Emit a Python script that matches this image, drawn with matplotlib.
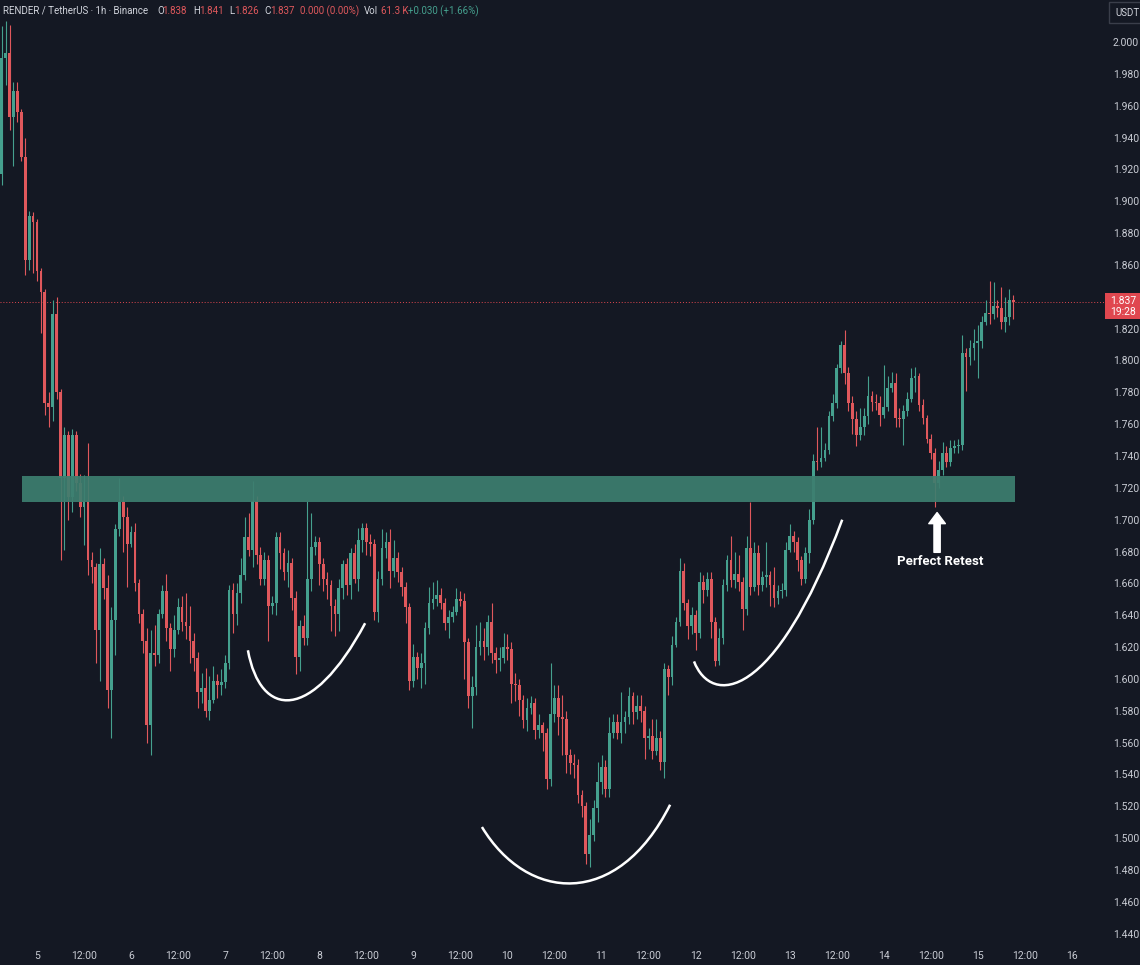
import numpy as np
import matplotlib
matplotlib.use("Agg")
import matplotlib.pyplot as plt
from matplotlib.patches import Rectangle, PathPatch
from matplotlib.path import Path

# RENDER/USDT 1h candles, hour 0 = day 5 00:00, first candle = day 4 15:00
first_hour = -9
first_open = 1.917
closes = [
    1.990, 1.993, 1.953, 1.969, 1.956, 1.928, 1.863, 1.891, 1.887, 1.856, 1.843, 1.773, 1.771, 1.829, 1.780, 1.726,
    1.753, 1.714, 1.753, 1.723, 1.708, 1.712,
    1.675, 1.670, 1.631, 1.672, 1.657, 1.593, 1.637, 1.694, 1.711, 1.702, 1.685, 1.692, 1.660, 1.641, 1.624, 1.571,
    1.616, 1.615, 1.641, 1.655, 1.632, 1.619, 1.631, 1.645, 1.636, 1.633, 1.624, 1.613, 1.592, 1.594, 1.580, 1.587,
    1.599, 1.596, 1.598, 1.610, 1.656, 1.641, 1.654,
    1.665, 1.689, 1.681, 1.712, 1.678, 1.663, 1.675, 1.646, 1.648, 1.689, 1.679, 1.667, 1.673, 1.651, 1.614, 1.633,
    1.626, 1.663, 1.683, 1.686, 1.672, 1.663, 1.659, 1.646, 1.641, 1.657, 1.672, 1.659, 1.679, 1.663, 1.687, 1.695,
    1.686, 1.685, 1.642, 1.663, 1.682, 1.686, 1.668, 1.676, 1.667, 1.658, 1.645, 1.599, 1.614, 1.607, 1.610, 1.632,
    1.648, 1.650, 1.653, 1.648, 1.635, 1.639, 1.642, 1.650, 1.649, 1.623, 1.589, 1.595, 1.620, 1.624, 1.620, 1.636,
    1.616, 1.612, 1.613, 1.620, 1.619, 1.597, 1.596, 1.587, 1.574, 1.582, 1.585, 1.568, 1.571, 1.566, 1.537, 1.578,
    1.588, 1.576, 1.575, 1.552, 1.547, 1.546, 1.527, 1.520, 1.490, 1.502, 1.519,
    1.535, 1.545, 1.531, 1.566, 1.573, 1.566, 1.573, 1.576, 1.589, 1.579, 1.583, 1.580, 1.563, 1.564, 1.555, 1.563,
    1.548, 1.606, 1.601, 1.621, 1.636, 1.668, 1.648, 1.633, 1.640, 1.629, 1.661, 1.656, 1.663, 1.636, 1.611, 1.626,
    1.659, 1.675, 1.662, 1.666, 1.661, 1.644, 1.682, 1.658, 1.679, 1.659, 1.664, 1.665, 1.659, 1.651, 1.655, 1.656,
    1.681, 1.690, 1.686, 1.675, 1.663, 1.679, 1.700,
    1.737, 1.736, 1.739, 1.744, 1.765, 1.773, 1.795, 1.810, 1.792, 1.773, 1.763, 1.753, 1.758, 1.765, 1.778, 1.774,
    1.773, 1.766, 1.771, 1.783, 1.786, 1.764, 1.763, 1.768, 1.776, 1.789, 1.790, 1.772, 1.764, 1.751, 1.742, 1.723,
    1.731, 1.742, 1.736, 1.745, 1.746, 1.747, 1.805, 1.802, 1.808, 1.811, 1.812, 1.824, 1.830, 1.829, 1.834, 1.833,
    1.824, 1.827, 1.838, 1.837,
]
highs = [
    2.010, 2.013, 2.011, 1.975, 1.975, 1.958, 1.940, 1.894, 1.893, 1.889, 1.858, 1.845, 1.780, 1.838, 1.840, 1.782,
    1.758, 1.756, 1.757, 1.756, 1.729, 1.728,
    1.748, 1.680, 1.673, 1.682, 1.676, 1.665, 1.645, 1.697, 1.726, 1.715, 1.708, 1.696, 1.698, 1.663, 1.644, 1.632,
    1.631, 1.634, 1.644, 1.659, 1.666, 1.635, 1.640, 1.651, 1.652, 1.654, 1.646, 1.629, 1.617, 1.604, 1.607, 1.602,
    1.608, 1.603, 1.606, 1.615, 1.659, 1.660, 1.660,
    1.676, 1.702, 1.704, 1.724, 1.715, 1.683, 1.680, 1.678, 1.652, 1.692, 1.692, 1.682, 1.681, 1.676, 1.655, 1.637,
    1.640, 1.712, 1.704, 1.690, 1.689, 1.676, 1.667, 1.662, 1.650, 1.663, 1.675, 1.676, 1.682, 1.685, 1.695, 1.698,
    1.698, 1.691, 1.688, 1.668, 1.694, 1.692, 1.694, 1.687, 1.680, 1.670, 1.661, 1.648, 1.622, 1.617, 1.616, 1.636,
    1.658, 1.661, 1.662, 1.657, 1.651, 1.643, 1.646, 1.657, 1.655, 1.654, 1.626, 1.602, 1.634, 1.636, 1.632, 1.640,
    1.648, 1.620, 1.620, 1.629, 1.628, 1.623, 1.604, 1.600, 1.590, 1.588, 1.589, 1.588, 1.578, 1.573, 1.569, 1.610,
    1.596, 1.596, 1.590, 1.580, 1.556, 1.553, 1.550, 1.530, 1.523, 1.512, 1.524,
    1.548, 1.552, 1.549, 1.576, 1.578, 1.578, 1.592, 1.580, 1.595, 1.592, 1.590, 1.590, 1.583, 1.569, 1.575, 1.575,
    1.567, 1.610, 1.609, 1.627, 1.639, 1.676, 1.673, 1.650, 1.645, 1.643, 1.667, 1.665, 1.667, 1.667, 1.639, 1.632,
    1.663, 1.678, 1.690, 1.680, 1.678, 1.664, 1.690, 1.711, 1.686, 1.684, 1.668, 1.686, 1.668, 1.670, 1.659, 1.660,
    1.686, 1.697, 1.693, 1.689, 1.677, 1.683, 1.707,
    1.741, 1.758, 1.758, 1.748, 1.768, 1.779, 1.798, 1.812, 1.819, 1.796, 1.778, 1.768, 1.770, 1.770, 1.790, 1.781,
    1.779, 1.778, 1.797, 1.790, 1.793, 1.792, 1.770, 1.772, 1.780, 1.795, 1.796, 1.792, 1.776, 1.766, 1.754, 1.745,
    1.737, 1.749, 1.746, 1.750, 1.750, 1.751, 1.816, 1.808, 1.813, 1.820, 1.822, 1.828, 1.838, 1.850, 1.849, 1.838,
    1.846, 1.840, 1.845, 1.841,
]
lows = [
    1.910, 1.973, 1.945, 1.922, 1.950, 1.925, 1.854, 1.857, 1.855, 1.850, 1.817, 1.766, 1.758, 1.762, 1.776, 1.675,
    1.681, 1.700, 1.705, 1.718, 1.702, 1.684,
    1.665, 1.660, 1.610, 1.599, 1.650, 1.582, 1.563, 1.615, 1.690, 1.680, 1.658, 1.683, 1.655, 1.635, 1.616, 1.560,
    1.552, 1.608, 1.610, 1.638, 1.624, 1.605, 1.614, 1.628, 1.630, 1.625, 1.610, 1.605, 1.582, 1.585, 1.576, 1.574,
    1.585, 1.588, 1.590, 1.594, 1.606, 1.629, 1.634,
    1.648, 1.662, 1.677, 1.670, 1.672, 1.659, 1.659, 1.624, 1.641, 1.640, 1.669, 1.662, 1.658, 1.643, 1.603, 1.605,
    1.621, 1.621, 1.655, 1.678, 1.659, 1.655, 1.650, 1.630, 1.627, 1.630, 1.650, 1.653, 1.650, 1.660, 1.655, 1.680,
    1.678, 1.677, 1.637, 1.636, 1.659, 1.676, 1.657, 1.664, 1.661, 1.652, 1.635, 1.593, 1.595, 1.600, 1.594, 1.597,
    1.628, 1.644, 1.646, 1.644, 1.631, 1.626, 1.636, 1.640, 1.646, 1.600, 1.582, 1.569, 1.590, 1.615, 1.612, 1.615,
    1.610, 1.604, 1.605, 1.610, 1.612, 1.585, 1.586, 1.577, 1.569, 1.567, 1.578, 1.562, 1.563, 1.555, 1.531, 1.533,
    1.573, 1.565, 1.552, 1.541, 1.540, 1.538, 1.522, 1.513, 1.484, 1.482, 1.498,
    1.510, 1.528, 1.526, 1.526, 1.563, 1.562, 1.560, 1.566, 1.572, 1.572, 1.575, 1.573, 1.550, 1.556, 1.550, 1.552,
    1.543, 1.538, 1.590, 1.596, 1.620, 1.633, 1.643, 1.625, 1.628, 1.618, 1.626, 1.648, 1.652, 1.626, 1.608, 1.609,
    1.622, 1.655, 1.658, 1.657, 1.655, 1.631, 1.640, 1.653, 1.655, 1.653, 1.655, 1.658, 1.646, 1.645, 1.647, 1.651,
    1.652, 1.680, 1.680, 1.668, 1.659, 1.660, 1.673,
    1.697, 1.731, 1.733, 1.737, 1.741, 1.762, 1.770, 1.792, 1.785, 1.768, 1.754, 1.746, 1.750, 1.753, 1.760, 1.768,
    1.769, 1.759, 1.764, 1.768, 1.780, 1.758, 1.758, 1.747, 1.765, 1.774, 1.780, 1.768, 1.760, 1.748, 1.738, 1.708,
    1.720, 1.728, 1.733, 1.734, 1.742, 1.742, 1.744, 1.781, 1.797, 1.800, 1.789, 1.808, 1.822, 1.823, 1.826, 1.827,
    1.820, 1.818, 1.822, 1.826,
]
last_price = 1.837

# support zone and annotations (hour, price)
zone_lo, zone_hi = 1.7111, 1.7272
zone_start, zone_end = -3.8, 249.5
curve_left = [(53.8, 1.618), (57.0, 1.575), (70.0, 1.572), (83.7, 1.635)]
curve_mid = [(113.5, 1.507), (125.0, 1.460), (148.0, 1.455), (161.5, 1.521)]
curve_right = [(167.6, 1.611), (172.0, 1.583), (188.0, 1.585), (205.4, 1.700)]

tick_hours = list(range(0, 265, 12))
tick_labels = ["5", "12:00", "6", "12:00", "7", "12:00", "8", "12:00", "9", "12:00", "10", "12:00",
               "11", "12:00", "12", "12:00", "13", "12:00", "14", "12:00", "15", "12:00", "16"]
price_ticks = np.round(np.arange(1.44, 2.0001, 0.02), 3)

BG = "#141823"
UP = "#45a08e"
DOWN = "#e0585c"
TXT = "#c9ccd4"
plt.rcParams["font.family"] = ["Roboto", "DejaVu Sans"]

opens = [first_open] + closes[:-1]
hours = np.arange(len(closes)) + first_hour

fig = plt.figure(figsize=(11.4, 9.65), dpi=100, facecolor=BG)
ax = fig.add_axes([0, 20 / 965, 1108 / 1140, 945 / 965])
ax.set_facecolor(BG)
ax.set_xlim(-9.44, 273.2)
ax.set_ylim(1.4329, 2.0264)
for s in ax.spines.values():
    s.set_visible(False)

for h, o, c, hi, lo in zip(hours, opens, closes, highs, lows):
    col = UP if c >= o else DOWN
    ax.vlines(h, lo, hi, color=col, lw=0.8, zorder=2)
    ax.bar(h, max(abs(c - o), 0.0008), bottom=min(o, c), width=0.7, color=col, zorder=2)

ax.add_patch(Rectangle((zone_start, zone_lo), zone_end - zone_start, zone_hi - zone_lo,
                       facecolor="#3d7e6f", edgecolor="none", alpha=0.93, zorder=3))
ax.axhline(last_price, color="#e0474f", lw=0.7, ls=(0, (1, 2)), zorder=1)

for pts in (curve_left, curve_mid, curve_right):
    path = Path(pts, [Path.MOVETO, Path.CURVE4, Path.CURVE4, Path.CURVE4])
    ax.add_patch(PathPatch(path, facecolor="none", edgecolor="white", lw=1.8, zorder=4))

ax.annotate("", xy=(229.6, 1.7045), xytext=(229.6, 1.6795),
            arrowprops=dict(facecolor="white", edgecolor="white", width=4.5, headwidth=12, headlength=8),
            zorder=5)
ax.text(230.4, 1.6735, "Perfect Retest", color="white", fontsize=9.5, fontweight="bold",
        ha="center", va="center", zorder=5)

ax.set_xticks(tick_hours)
ax.set_xticklabels(tick_labels)
ax.set_yticks(price_ticks)
ax.set_yticklabels(["%.3f" % p for p in price_ticks])
ax.yaxis.tick_right()
ax.tick_params(axis="both", length=0, colors=TXT, labelsize=7.5)
ax.tick_params(axis="y", pad=3.5)
ax.tick_params(axis="x", pad=4)

# header line
hy = 1 - 11 / 965
def put(xpx, s, col, **kw):
    fig.text(xpx / 1140, hy, s, color=col, fontsize=7, va="center", ha="left", **kw)

put(3, "RENDER / TetherUS · 1h · Binance", "#d1d4dc")
for xl, lab, xv, val in [(157, "O", 162, "1.838"), (193, "H", 199, "1.841"),
                         (229, "L", 234, "1.826"), (264, "C", 270, "1.837")]:
    put(xl, lab, "#d1d4dc")
    put(xv, val, DOWN)
put(300, "0.000 (0.00%)", DOWN)
put(364, "Vol", "#d1d4dc")
put(381, "61.3 K", DOWN)
put(408, "+0.030 (+1.66%)", UP)

# price scale extras
fig.patches.append(Rectangle((1109 / 1140, 1 - 23 / 965), 40 / 1140, 21 / 965, transform=fig.transFigure,
                             facecolor=BG, edgecolor="#3a3e4a", lw=1))
fig.text(1115 / 1140, 1 - 12.5 / 965, "USDT", color="#d1d4dc", fontsize=7, va="center", ha="left")
fig.patches.append(Rectangle((1105 / 1140, 1 - 319 / 965), 35 / 1140, 26 / 965, transform=fig.transFigure,
                             facecolor="#e0474f", edgecolor="none", zorder=5))
fig.text(1123 / 1140, 1 - 300.5 / 965, "1.837", color="white", fontsize=7.5, ha="center", va="center", zorder=6)
fig.text(1123 / 1140, 1 - 312 / 965, "19:28", color="white", fontsize=7.5, ha="center", va="center", zorder=6)

fig.savefig("out.png", dpi=100, facecolor=BG)
